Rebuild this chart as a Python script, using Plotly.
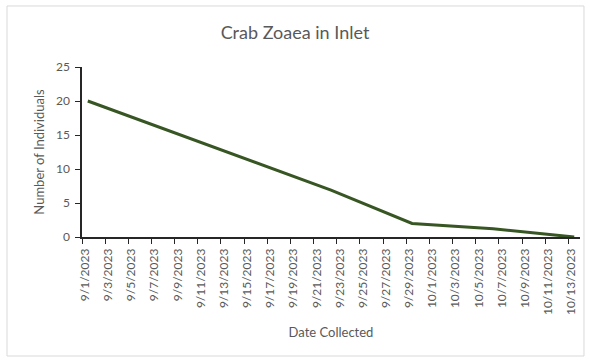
import pandas as pd
import plotly.graph_objects as go

# Weekly samples of crab zoeae counted in the inlet
sample_dates = ["2023-09-01", "2023-09-08", "2023-09-15", "2023-09-22",
                "2023-09-29", "2023-10-06", "2023-10-13"]
individuals = [20, 15.6, 11.2, 6.9, 2, 1.2, 0]

# Axis labels every second day
tick_labels = ["9/1/2023", "9/3/2023", "9/5/2023", "9/7/2023", "9/9/2023",
               "9/11/2023", "9/13/2023", "9/15/2023", "9/17/2023", "9/19/2023",
               "9/21/2023", "9/23/2023", "9/25/2023", "9/27/2023", "9/29/2023",
               "10/1/2023", "10/3/2023", "10/5/2023", "10/7/2023", "10/9/2023",
               "10/11/2023", "10/13/2023"]
y_ticks = [0, 5, 10, 15, 20, 25]

GRAY = "#595959"
AXIS = "#262626"
FONT = "Lato"

x = pd.to_datetime(sample_dates)
half_day = pd.Timedelta(hours=12)
# each date sits in the middle of its one-day slot; ticks mark slot edges
tick_pos = [pd.to_datetime(t, format="%m/%d/%Y") - half_day for t in tick_labels]
x_start = x.min() - half_day
x_end = x.max() + half_day

fig = go.Figure()
fig.add_trace(go.Scatter(
    x=x, y=individuals, mode="lines",
    line=dict(color="#375623", width=3),
    hoverinfo="x+y", showlegend=False,
))

fig.update_layout(
    width=590, height=360,
    margin=dict(l=82, r=10, t=67, b=123),
    paper_bgcolor="white", plot_bgcolor="white",
    font=dict(family=FONT, color=GRAY, size=12),
    title=dict(text="Crab Zoaea in Inlet", x=0.5, xref="container",
               y=0.908, yref="container", yanchor="middle",
               font=dict(family=FONT, size=18, color=GRAY)),
    xaxis=dict(
        type="date", range=[x_start, x_end],
        tickvals=tick_pos, ticktext=tick_labels, tickangle=-90,
        ticks="outside", ticklen=5, tickcolor=AXIS, tickwidth=1,
        showline=True, linecolor=AXIS, linewidth=1.5,
        showgrid=False, zeroline=False,
        tickfont=dict(size=12, color=GRAY, family=FONT),
        ticklabelshift=3,
        title=dict(text="Date Collected", standoff=14,
                   font=dict(size=13, color=GRAY, family=FONT)),
    ),
    yaxis=dict(
        range=[0, 25], tickvals=y_ticks,
        ticks="outside", ticklen=5, tickcolor=AXIS, tickwidth=1,
        showline=True, linecolor=AXIS, linewidth=1.5,
        showgrid=False, zeroline=False,
        tickfont=dict(size=12, color=GRAY, family=FONT),
        ticklabelstandoff=3,
        title=dict(text="Number of Individuals", standoff=8,
                   font=dict(size=13, color=GRAY, family=FONT)),
    ),
    shapes=[dict(type="rect", xref="paper", yref="paper",
                 x0=-0.1506, x1=1.008, y0=-0.70, y1=1.359,
                 line=dict(color="#d9d9d9", width=1), layer="below")],
)

fig.write_html("out.html")
